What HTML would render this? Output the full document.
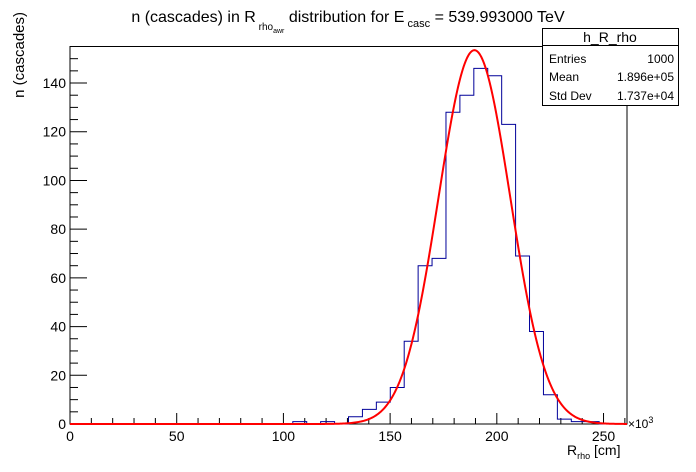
<!DOCTYPE html>
<html><head><meta charset="utf-8"><style>
body{margin:0;background:#fff;}
svg{display:block;font-family:"Liberation Sans",Arial,sans-serif;}
</style></head><body>
<svg id="c" width="696" height="472" viewBox="0 0 696 472">
<rect x="0" y="0" width="696" height="472" fill="#fff"/>
<g id="plot"></g>
<text x="348" y="22" font-size="16" text-anchor="middle">n (cascades) in R<tspan font-size="10" dy="8"> rho</tspan><tspan font-size="7" dy="3">awr</tspan><tspan font-size="16" dy="-11"> distribution for E</tspan><tspan font-size="11" dy="5"> casc</tspan><tspan font-size="16" dy="-5"> = 539.993000 TeV</tspan></text>
<text transform="translate(24,12) rotate(-90)" font-size="15" text-anchor="end">n (cascades)</text>
<text x="567" y="455" font-size="14">R<tspan font-size="9" dy="4">rho</tspan><tspan dy="-4"> [cm]</tspan></text>
<text x="628" y="428" font-size="12">×10<tspan font-size="9" dy="-5">3</tspan></text>
<g>
<rect x="542.5" y="28.5" width="136" height="77" fill="#fff" stroke="#000"/>
<line x1="542.5" y1="45.5" x2="678.5" y2="45.5" stroke="#000"/>
<text x="610" y="42" font-size="14" text-anchor="middle">h_R_rho</text>
<text x="549" y="63" font-size="12">Entries</text>
<text x="674" y="63" font-size="12" text-anchor="end">1000</text>
<text x="549" y="81" font-size="12">Mean</text>
<text x="674" y="81" font-size="12" text-anchor="end">1.896e+05</text>
<text x="549" y="100" font-size="12">Std Dev</text>
<text x="674" y="100" font-size="12" text-anchor="end">1.737e+04</text>
</g>
</svg>
<script>
const counts=[0,0,0,0,0,0,0,0,0,0,0,0,0,0,0,0,1,0,1,0,3,6,9,15,34,65,68,128,135,146,143,123,69,38,12,2,1,1,0,0];
const xTicks=[0,50,100,150,200,250];
const yTicks=[0,20,40,60,80,100,120,140];
const fitParams=[153.5,189.5,16.8];
const xMin=0,xMax=261,yMin=0,yMax=155;
const L=70,R=627,T=46.5,B=424;
const sx=v=>L+(v-xMin)/(xMax-xMin)*(R-L);
const sy=v=>B-(v-yMin)/(yMax-yMin)*(B-T);
const NS='http://www.w3.org/2000/svg';
const g=document.getElementById('plot');
function mk(t,a){const e=document.createElementNS(NS,t);for(const k in a)e.setAttribute(k,a[k]);g.appendChild(e);return e;}
const fr=mk('rect',{x:L,y:T,width:R-L,height:B-T,fill:'none',stroke:'#000'});


for(let v=0;v<=yMax;v+=5){const maj=v%20===0;const t=mk('line',{x1:L,y1:sy(v),x2:L+(maj?17:8),y2:sy(v),stroke:'#000'});

}
yTicks.forEach(v=>{const t=mk('text',{x:L-4,y:sy(v)+5,'font-size':14,'text-anchor':'end'});t.textContent=v;

});
for(let v=0;v<=xMax;v+=10){const maj=v%50===0;const t=mk('line',{x1:sx(v),y1:B,x2:sx(v),y2:B-(maj?11:6),stroke:'#000'});

}
xTicks.forEach(v=>{const t=mk('text',{x:sx(v),y:B+17,'font-size':14,'text-anchor':'middle'});t.textContent=v;

});
const bw=(xMax-xMin)/counts.length;
let d='M'+sx(0)+','+sy(0);
counts.forEach((c,i)=>{d+=' L'+sx(i*bw)+','+sy(c)+' L'+sx((i+1)*bw)+','+sy(c);});
d+=' L'+sx(xMax)+','+sy(0);
const h=mk('path',{d:d,fill:'none',stroke:'#000099','stroke-width':1});


let fd='';
for(let i=0;i<=600;i++){const x=xMin+(xMax-xMin)*i/600;const y=fitParams[0]*Math.exp(-0.5*Math.pow((x-fitParams[1])/fitParams[2],2));fd+=(i?' L':'M')+sx(x).toFixed(2)+','+sy(y).toFixed(2);}
const f=mk('path',{d:fd,fill:'none',stroke:'#ff0000','stroke-width':2});


</script>
</body></html>
